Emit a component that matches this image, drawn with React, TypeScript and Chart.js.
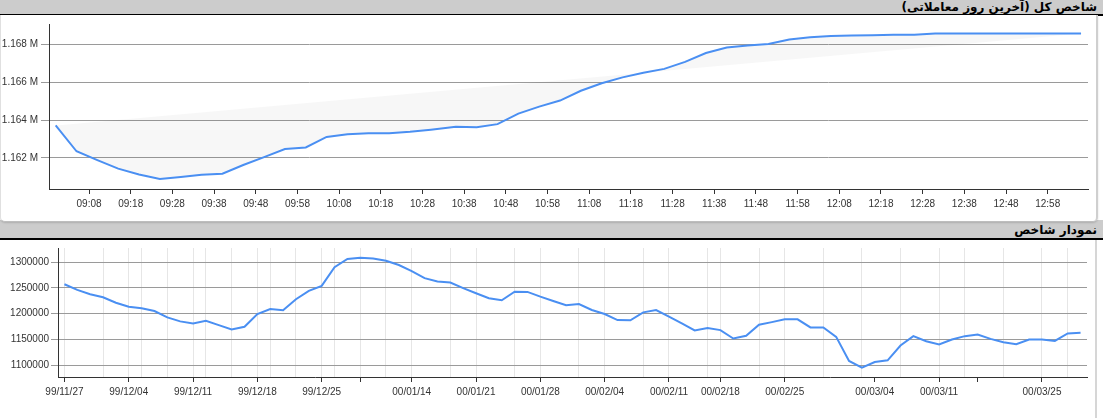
import React, { useEffect, useRef } from 'react';
import { Chart, registerables } from 'chart.js';

Chart.register(...registerables);

const TOP_TITLE = 'شاخص کل (آخرین روز معاملاتی)';
const BOTTOM_TITLE = 'نمودار شاخص';

// Intraday (last trading day)
const INTRADAY_TIMES = [
  '09:00', '09:05', '09:10', '09:15', '09:20', '09:25', '09:30', '09:35', '09:40', '09:45',
  '09:50', '09:55', '10:00', '10:05', '10:10', '10:15', '10:20', '10:25', '10:30', '10:36',
  '10:41', '10:46', '10:51', '10:56', '11:01', '11:06', '11:11', '11:16', '11:21', '11:26',
  '11:31', '11:36', '11:41', '11:46', '11:51', '11:56', '12:01', '12:06', '12:11', '12:16',
  '12:21', '12:26', '12:31', '12:36', '12:41', '12:46', '12:51', '12:56', '13:01', '13:06',
];
const INTRADAY_VALUES = [
  1163720, 1162350, 1161880, 1161430, 1161120, 1160880, 1160980, 1161100, 1161160, 1161620,
  1162040, 1162470, 1162550, 1163110, 1163250, 1163300, 1163300, 1163380, 1163490, 1163650,
  1163620, 1163790, 1164350, 1164720, 1165040, 1165560, 1165960, 1166270, 1166510, 1166720,
  1167090, 1167560, 1167850, 1167960, 1168040, 1168280, 1168400, 1168470, 1168490, 1168510,
  1168530, 1168530, 1168600, 1168600, 1168600, 1168600, 1168600, 1168600, 1168600, 1168600,
];
const INTRADAY_X_TICKS = [
  '09:08', '09:18', '09:28', '09:38', '09:48', '09:58', '10:08', '10:18', '10:28', '10:38',
  '10:48', '10:58', '11:08', '11:18', '11:28', '11:38', '11:48', '11:58', '12:08', '12:18',
  '12:28', '12:38', '12:48', '12:58',
];
const INTRADAY_X_RANGE = ['08:58:24', '13:07:40'];
const INTRADAY_Y_TICKS = [1162000, 1164000, 1166000, 1168000];
const INTRADAY_Y_RANGE = [1160350, 1169100];

// Daily index chart
const DATES = [
  '99/11/27', '99/11/28', '99/11/29', '99/12/02', '99/12/03', '99/12/04', '99/12/05', '99/12/06', '99/12/09', '99/12/10',
  '99/12/11', '99/12/12', '99/12/13', '99/12/16', '99/12/17', '99/12/18', '99/12/19', '99/12/20', '99/12/23', '99/12/24',
  '99/12/25', '99/12/26', '99/12/27', '00/01/08', '00/01/09', '00/01/10', '00/01/11', '00/01/14', '00/01/15', '00/01/16',
  '00/01/17', '00/01/18', '00/01/21', '00/01/22', '00/01/23', '00/01/24', '00/01/25', '00/01/28', '00/01/29', '00/01/30',
  '00/01/31', '00/02/01', '00/02/04', '00/02/05', '00/02/06', '00/02/07', '00/02/08', '00/02/11', '00/02/12', '00/02/13',
  '00/02/15', '00/02/18', '00/02/19', '00/02/20', '00/02/21', '00/02/22', '00/02/25', '00/02/27', '00/02/28', '00/02/29',
  '00/03/01', '00/03/02', '00/03/03', '00/03/04', '00/03/05', '00/03/08', '00/03/09', '00/03/10', '00/03/11', '00/03/12',
  '00/03/17', '00/03/18', '00/03/19', '00/03/22', '00/03/23', '00/03/24', '00/03/25', '00/03/26', '00/03/29', '00/03/30',
];
const INDEX_VALUES = [
  1257000, 1246000, 1237700, 1231800, 1221300, 1213500, 1210400, 1205200, 1192900, 1185100,
  1181200, 1186300, 1177900, 1169500, 1174600, 1199300, 1209100, 1206500, 1227900, 1244100,
  1253800, 1289900, 1306000, 1308400, 1307000, 1302500, 1294200, 1282500, 1268800, 1262200,
  1260300, 1249400, 1239600, 1229900, 1226000, 1242700, 1242200, 1233000, 1224600, 1216300,
  1218800, 1207100, 1199300, 1187600, 1187100, 1202600, 1207100, 1194100, 1181200, 1167600,
  1172100, 1168200, 1152000, 1157100, 1178500, 1183700, 1189000, 1189000, 1173400, 1173400,
  1155100, 1108400, 1095500, 1106400, 1109700, 1138400, 1156500, 1146700, 1140300, 1150000,
  1156500, 1159800, 1151200, 1144800, 1140900, 1150000, 1150000, 1147300, 1161700, 1162900,
];
const TICK_DATES = [
  '99/11/27', '99/12/04', '99/12/11', '99/12/18', '99/12/25', '00/01/08', '00/01/14', '00/01/21', '00/01/28',
  '00/02/04', '00/02/11', '00/02/18', '00/02/25', '00/03/04', '00/03/11', '00/03/18', '00/03/25',
];
const UNLABELED_TICK_DATES = ['00/01/08', '00/03/18'];
const GRID_DATES = [
  '99/11/27', '99/12/02', '99/12/04', '99/12/05', '99/12/09', '99/12/11', '99/12/12', '99/12/16', '99/12/18', '99/12/19',
  '99/12/23', '99/12/25', '99/12/26', '00/01/08', '00/01/10', '00/01/14', '00/01/17', '00/01/21', '00/01/24', '00/01/28',
  '00/01/31', '00/02/04', '00/02/07', '00/02/11', '00/02/15', '00/02/18', '00/02/21', '00/02/25', '00/02/29', '00/03/03',
  '00/03/08', '00/03/11', '00/03/17', '00/03/22', '00/03/25', '00/03/29',
];
const INDEX_Y_TICKS = [1100000, 1150000, 1200000, 1250000, 1300000];
const INDEX_Y_RANGE = [1077400, 1327200];

const LINE_COLOR = '#4a8ff2';
const GRID_COLOR = '#9a9a9a';
const AXIS_COLOR = '#333333';
const TEXT_COLOR = '#333333';
const FONT = { family: 'Arial, "Liberation Sans", sans-serif', size: 10 };

const toMin = (t: string) => {
  const p = t.split(':').map(Number);
  return p[0] * 60 + p[1] + (p[2] || 0) / 60;
};

export default function App() {
  const topRef = useRef<HTMLCanvasElement>(null);
  const botRef = useRef<HTMLCanvasElement>(null);

  useEffect(() => {
    const points = INTRADAY_TIMES.map((t, i) => ({ x: toMin(t), y: INTRADAY_VALUES[i] }));
    const chord = [points[0], points[points.length - 1]];
    const top = new Chart(topRef.current!, {
      type: 'line',
      data: {
        datasets: [
          {
            data: points,
            borderColor: LINE_COLOR,
            borderWidth: 2,
            pointRadius: 0,
            tension: 0,
            fill: { target: 1 },
            backgroundColor: 'rgba(0,0,0,0.03)',
          },
          {
            data: chord,
            borderColor: 'rgba(0,0,0,0)',
            borderWidth: 0,
            pointRadius: 0,
            fill: false,
          },
        ],
      },
      options: {
        animation: false,
        responsive: false,
        events: [],
        layout: { padding: { top: 7, right: 7, left: 0, bottom: 0 } },
        plugins: { legend: { display: false }, tooltip: { enabled: false } },
        scales: {
          x: {
            type: 'linear',
            min: toMin(INTRADAY_X_RANGE[0]),
            max: toMin(INTRADAY_X_RANGE[1]),
            afterBuildTicks: (s: any) => {
              s.ticks = INTRADAY_X_TICKS.map((t) => ({ value: toMin(t) }));
            },
            afterFit: (s: any) => {
              s.height = 32;
            },
            grid: { drawOnChartArea: false, drawTicks: true, tickLength: 5, tickColor: AXIS_COLOR },
            border: { color: AXIS_COLOR, width: 1 },
            ticks: {
              autoSkip: false,
              maxRotation: 0,
              padding: 4,
              color: TEXT_COLOR,
              font: FONT,
              callback: (_v: any, i: number) => INTRADAY_X_TICKS[i],
            },
          },
          y: {
            type: 'linear',
            min: INTRADAY_Y_RANGE[0],
            max: INTRADAY_Y_RANGE[1],
            afterBuildTicks: (s: any) => {
              s.ticks = INTRADAY_Y_TICKS.map((v) => ({ value: v }));
            },
            afterFit: (s: any) => {
              s.width = 49;
            },
            grid: { color: GRID_COLOR, tickLength: 8, tickColor: GRID_COLOR },
            border: { color: AXIS_COLOR, width: 1 },
            ticks: {
              padding: 3,
              color: TEXT_COLOR,
              font: FONT,
              callback: (v: any) => (Number(v) / 1e6).toFixed(3) + ' M',
            },
          },
        },
      },
    } as any);

    const bot = new Chart(botRef.current!, {
      type: 'line',
      data: {
        labels: DATES,
        datasets: [
          {
            data: INDEX_VALUES,
            borderColor: LINE_COLOR,
            borderWidth: 2,
            pointRadius: 0,
            tension: 0,
            fill: false,
          },
        ],
      },
      options: {
        animation: false,
        responsive: false,
        events: [],
        layout: { padding: { top: 8, right: 8, left: 0, bottom: 0 } },
        plugins: { legend: { display: false }, tooltip: { enabled: false } },
        scales: {
          x: {
            type: 'category',
            offset: true,
            afterFit: (s: any) => {
              s.height = 41;
            },
            grid: {
              offset: false,
              color: (c: any) => (GRID_DATES.includes(DATES[c.index]) ? '#e6e6e6' : 'rgba(0,0,0,0)'),
              tickColor: (c: any) => (TICK_DATES.includes(DATES[c.index]) ? AXIS_COLOR : 'rgba(0,0,0,0)'),
              tickLength: 5,
            },
            border: { color: AXIS_COLOR, width: 1 },
            ticks: {
              autoSkip: false,
              maxRotation: 0,
              minRotation: 0,
              padding: 4,
              color: TEXT_COLOR,
              font: FONT,
              callback: (_v: any, i: number) => {
                const d = DATES[i];
                return TICK_DATES.includes(d) && !UNLABELED_TICK_DATES.includes(d) ? d : '';
              },
            },
          },
          y: {
            type: 'linear',
            min: INDEX_Y_RANGE[0],
            max: INDEX_Y_RANGE[1],
            afterBuildTicks: (s: any) => {
              s.ticks = INDEX_Y_TICKS.map((v) => ({ value: v }));
            },
            afterFit: (s: any) => {
              s.width = 58;
            },
            grid: { color: GRID_COLOR, tickLength: 7, tickColor: GRID_COLOR },
            border: { color: AXIS_COLOR, width: 1 },
            ticks: {
              padding: 2,
              color: TEXT_COLOR,
              font: FONT,
              callback: (v: any) => String(v),
            },
          },
        },
      },
    } as any);

    return () => {
      top.destroy();
      bot.destroy();
    };
  }, []);

  const titleStyle: React.CSSProperties = {
    position: 'absolute',
    left: 0,
    width: 1103,
    background: '#cccccc',
    borderBottom: '2px solid #000',
    boxSizing: 'border-box',
    direction: 'rtl',
    textAlign: 'right',
    paddingRight: 6,
    fontFamily: '"DejaVu Sans", sans-serif',
    fontWeight: 'bold',
    fontSize: 12,
    color: '#000',
    overflow: 'hidden',
    whiteSpace: 'nowrap',
  };

  return (
    <div style={{ position: 'fixed', left: 0, top: 0, width: 1103, height: 418, background: '#fff', overflow: 'hidden' }}>
      <div style={{ ...titleStyle, top: 0, height: 16, lineHeight: '14px' }}>{TOP_TITLE}</div>
      <div style={{ ...titleStyle, top: 220, height: 20, paddingTop: 3, lineHeight: '15px' }}>{BOTTOM_TITLE}</div>
      <div
        style={{
          position: 'absolute',
          left: 0,
          top: 15,
          width: 1098,
          height: 207,
          boxSizing: 'border-box',
          background: '#fff',
          borderRight: '2px solid #cfcfcf',
          borderBottom: '1px solid #bdbdbd',
          borderLeft: '1px solid #e0e0e0',
          borderRadius: '0 0 5px 5px',
          boxShadow: '0 1px 2px rgba(0,0,0,0.15)',
        }}
      />
      <div
        style={{
          position: 'absolute',
          left: 0,
          top: 240,
          width: 1097,
          height: 178,
          boxSizing: 'border-box',
          background: '#fff',
          borderRight: '2px solid #d6d6d6',
        }}
      />
      <canvas ref={topRef} width={1095} height={206} style={{ position: 'absolute', left: 0, top: 15, width: 1095, height: 206 }} />
      <canvas ref={botRef} width={1095} height={178} style={{ position: 'absolute', left: 0, top: 240, width: 1095, height: 178 }} />
    </div>
  );
}
